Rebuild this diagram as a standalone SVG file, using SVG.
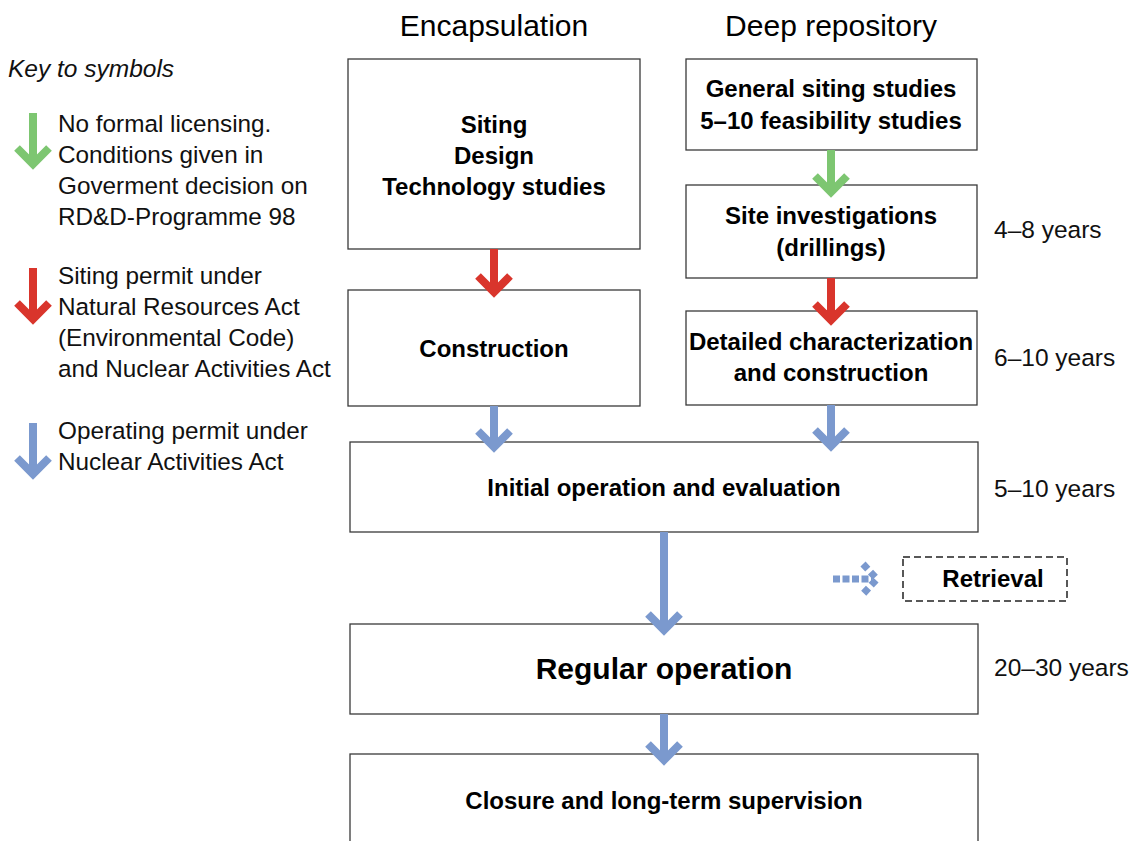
<svg xmlns="http://www.w3.org/2000/svg" width="1138" height="841" viewBox="0 0 1138 841">
<style>
.box{fill:#fff;stroke:#3a3a3a;stroke-width:1.3}
.dash{fill:#fff;stroke:#222;stroke-width:1.5;stroke-dasharray:7 4}
.bt{font-family:"Liberation Sans",Arial,sans-serif;font-weight:bold;font-size:24px;fill:#000;text-anchor:middle}
.title{font-family:"Liberation Sans",Arial,sans-serif;font-size:30px;fill:#000;text-anchor:middle}
.lt{font-family:"Liberation Sans",Arial,sans-serif;font-size:24.3px;fill:#111}
.yr{font-family:"Liberation Sans",Arial,sans-serif;font-size:24.5px;fill:#111}
.key{font-family:"Liberation Sans",Arial,sans-serif;font-size:24.5px;font-style:italic;fill:#111}
.g{stroke:#7DC671;stroke-width:8;fill:none}
.r{stroke:#D9352C;stroke-width:8;fill:none}
.b{stroke:#7B99CE;stroke-width:8;fill:none}
</style>
<text class="title" x="494" y="36">Encapsulation</text>
<text class="title" x="831" y="36">Deep repository</text>
<g id="legend">
<text class="key" x="8" y="77">Key to symbols</text>
<path class="g" d="M33 113V161M17 148L33 164L49 148"/>
<text class="lt" x="58" y="132">No formal licensing.</text>
<text class="lt" x="58" y="163">Conditions given in</text>
<text class="lt" x="58" y="194">Goverment decision on</text>
<text class="lt" x="58" y="225">RD&amp;D-Programme 98</text>
<path class="r" d="M33 268V316M17 303L33 319L49 303"/>
<text class="lt" x="58" y="284">Siting permit under</text>
<text class="lt" x="58" y="315">Natural Resources Act</text>
<text class="lt" x="58" y="346">(Environmental Code)</text>
<text class="lt" x="58" y="377">and Nuclear Activities Act</text>
<path class="b" d="M33 423V471M17 458L33 474L49 458"/>
<text class="lt" x="58" y="439">Operating permit under</text>
<text class="lt" x="58" y="470">Nuclear Activities Act</text>
</g>
<g id="n-enc-siting"><rect class="box" x="348" y="59" width="292" height="190"/>
<text class="bt" x="494" y="133">Siting</text><text class="bt" x="494" y="164">Design</text><text class="bt" x="494" y="195">Technology studies</text></g>
<g id="n-enc-construction"><rect class="box" x="348" y="290" width="292" height="116"/>
<text class="bt" x="494" y="357">Construction</text></g>
<g id="n-general"><rect class="box" x="686" y="59" width="291" height="91"/>
<text class="bt" x="831" y="97">General siting studies</text><text class="bt" x="831" y="129">5–10 feasibility studies</text></g>
<g id="n-site"><rect class="box" x="686" y="185" width="291" height="93"/>
<text class="bt" x="831" y="224">Site investigations</text><text class="bt" x="831" y="256">(drillings)</text></g>
<g id="n-detailed"><rect class="box" x="686" y="311" width="291" height="94"/>
<text class="bt" x="831" y="350">Detailed characterization</text><text class="bt" x="831" y="381">and construction</text></g>
<g id="n-initial"><rect class="box" x="350" y="442" width="628" height="90"/>
<text class="bt" x="664" y="496">Initial operation and evaluation</text></g>
<g id="n-retrieval"><rect class="dash" x="903" y="557" width="164" height="44"/>
<text class="bt" x="993" y="587">Retrieval</text></g>
<g id="n-regular"><rect class="box" x="350" y="624" width="628" height="90"/>
<text class="bt" x="664" y="679" style="font-size:30px">Regular operation</text></g>
<g id="n-closure"><rect class="box" x="350" y="754" width="628" height="100"/>
<text class="bt" x="664" y="809">Closure and long-term supervision</text></g>
<g id="labels">
<text class="yr" x="994" y="238">4–8 years</text>
<text class="yr" x="994" y="366">6–10 years</text>
<text class="yr" x="994" y="497">5–10 years</text>
<text class="yr" x="994" y="676">20–30 years</text>
</g>
<g id="connectors">
<path class="r" d="M494 249V289M478 276L494 292L510 276"/>
<path class="g" d="M831 150V189M815 176L831 192L847 176"/>
<path class="r" d="M831 278V317M815 304L831 320L847 304"/>
<path class="b" d="M494 406V444M478 431L494 447L510 431"/>
<path class="b" d="M831 405V443M815 430L831 446L847 430"/>
<path class="b" d="M664 532V627M648 614L664 630L680 614"/>
<path class="b" d="M664 714V757M648 744L664 760L680 744"/>
<path d="M833 579H872" stroke="#7B99CE" stroke-width="7" stroke-dasharray="7 2.5" fill="none"/>
<path d="M863 564L877 579L863 594" stroke="#7B99CE" stroke-width="7" stroke-dasharray="7 4" fill="none"/>
</g>
</svg>
